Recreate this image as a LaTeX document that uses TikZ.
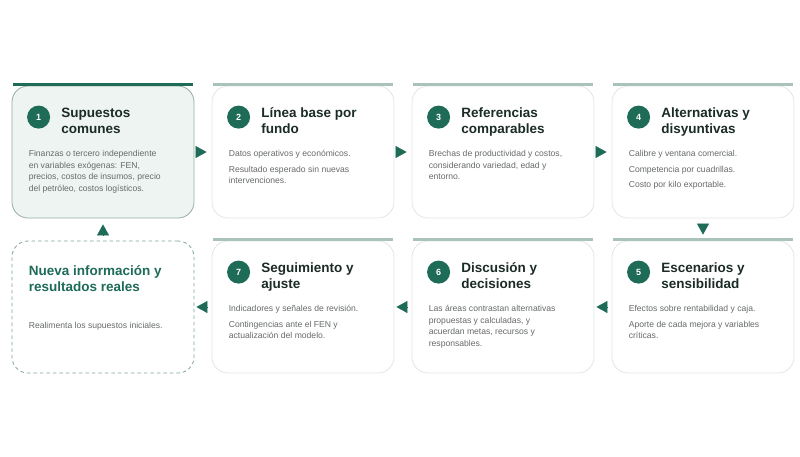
\documentclass[tikz,border=0pt]{standalone}
\usepackage{fontspec}
\setmainfont{Liberation Sans}
\usepackage{xcolor}
\usepackage{tikz}
\usetikzlibrary{arrows.meta}
\definecolor{fgreen}{HTML}{1E6B57}
\definecolor{barlight}{HTML}{A9C3B9}
\definecolor{firstfill}{HTML}{EEF4F1}
\definecolor{firstline}{HTML}{95AEA4}
\definecolor{cardline}{HTML}{E2E7E4}
\definecolor{loopline}{HTML}{7FA596}
\definecolor{titlecol}{HTML}{1B2B26}
\definecolor{bodycol}{HTML}{666B69}
\tikzstyle{card} = [rectangle, rounded corners = 16pt, draw = cardline, fill = white, line width = 0.8pt, minimum width = 182pt, minimum height = 132pt, inner sep = 0pt]
\tikzstyle{firstcard} = [card, draw = firstline, fill = firstfill]
\tikzstyle{loopcard} = [card, draw = loopline, dash pattern = on 3.5pt off 3pt]
\tikzstyle{bar} = [line width = 3pt, draw = barlight]
\tikzstyle{num} = [circle, fill = fgreen, text = white, minimum size = 23pt, inner sep = 0pt, font = \bfseries\fontsize{9}{9}\selectfont]
\tikzstyle{title} = [anchor = north west, align = left, inner sep = 0pt, text = titlecol, font = \bfseries\fontsize{13.5}{16}\selectfont, execute at begin node = \strut]
\tikzstyle{body} = [anchor = north west, align = left, inner sep = 0pt, text = bodycol, font = \fontsize{8.6}{11.5}\selectfont, execute at begin node = \strut]
\tikzstyle{line} = [-{Triangle[length = 11pt, width = 12pt]}, fgreen]

\begin{document}
\begin{tikzpicture}[x = 1pt, y = -1pt]
        \useasboundingbox (0,0) rectangle (800,456);
        % upper row
        \node (c1) [firstcard] at (103,152) {};
        \node (c2) [card] at (303,152) {};
        \node (c3) [card] at (503,152) {};
        \node (c4) [card] at (703,152) {};
        % lower row
        \node (c5) [card] at (703,307) {};
        \node (c6) [card] at (503,307) {};
        \node (c7) [card] at (303,307) {};
        \node (c8) [loopcard] at (103,307) {};
        % top bars
        \draw[bar, draw = fgreen] ([xshift = 1pt, yshift = 1pt]c1.north west) -- ([xshift = -1pt, yshift = 1pt]c1.north east);
        \draw[bar] ([xshift = 1pt, yshift = 1pt]c2.north west) -- ([xshift = -1pt, yshift = 1pt]c2.north east);
        \draw[bar] ([xshift = 1pt, yshift = 1pt]c3.north west) -- ([xshift = -1pt, yshift = 1pt]c3.north east);
        \draw[bar] ([xshift = 1pt, yshift = 1pt]c4.north west) -- ([xshift = -1pt, yshift = 1pt]c4.north east);
        \draw[bar] ([xshift = 1pt, yshift = 1pt]c5.north west) -- ([xshift = -1pt, yshift = 1pt]c5.north east);
        \draw[bar] ([xshift = 1pt, yshift = 1pt]c6.north west) -- ([xshift = -1pt, yshift = 1pt]c6.north east);
        \draw[bar] ([xshift = 1pt, yshift = 1pt]c7.north west) -- ([xshift = -1pt, yshift = 1pt]c7.north east);
        % numbers
        \node (n1) [num] at ([xshift = 27pt, yshift = -31.5pt]c1.north west) {1};
        \node (n2) [num] at ([xshift = 27pt, yshift = -31.5pt]c2.north west) {2};
        \node (n3) [num] at ([xshift = 27pt, yshift = -31.5pt]c3.north west) {3};
        \node (n4) [num] at ([xshift = 27pt, yshift = -31.5pt]c4.north west) {4};
        \node (n5) [num] at ([xshift = 27pt, yshift = -31.5pt]c5.north west) {5};
        \node (n6) [num] at ([xshift = 27pt, yshift = -31.5pt]c6.north west) {6};
        \node (n7) [num] at ([xshift = 27pt, yshift = -31.5pt]c7.north west) {7};
        % titles
        \node (t1) [title] at ([xshift = 49.5pt, yshift = -22pt]c1.north west) {Supuestos\\comunes};
        \node (t2) [title] at ([xshift = 49.5pt, yshift = -22pt]c2.north west) {Línea base por\\fundo};
        \node (t3) [title] at ([xshift = 49.5pt, yshift = -22pt]c3.north west) {Referencias\\comparables};
        \node (t4) [title] at ([xshift = 49.5pt, yshift = -22pt]c4.north west) {Alternativas y\\disyuntivas};
        \node (t5) [title] at ([xshift = 49.5pt, yshift = -22pt]c5.north west) {Escenarios y\\sensibilidad};
        \node (t6) [title] at ([xshift = 49.5pt, yshift = -22pt]c6.north west) {Discusión y\\decisiones};
        \node (t7) [title] at ([xshift = 49.5pt, yshift = -22pt]c7.north west) {Seguimiento y\\ajuste};
        \node (t8) [title, text = fgreen] at ([xshift = 17pt, yshift = -25pt]c8.north west) {Nueva información y\\resultados reales};
        % texts
        \node (b1) [body] at ([xshift = 17pt, yshift = -64.5pt]c1.north west) {Finanzas o tercero independiente\\en variables exógenas: FEN,\\precios, costos de insumos, precio\\del petróleo, costos logísticos.};
        \node (b2) [body] at ([xshift = 17pt, yshift = -64.5pt]c2.north west) {Datos operativos y económicos.\\[4pt]Resultado esperado sin nuevas\\intervenciones.};
        \node (b3) [body] at ([xshift = 17pt, yshift = -64.5pt]c3.north west) {Brechas de productividad y costos,\\considerando variedad, edad y\\entorno.};
        \node (b4) [body] at ([xshift = 17pt, yshift = -64.5pt]c4.north west) {Calibre y ventana comercial.\\[4pt]Competencia por cuadrillas.\\[4pt]Costo por kilo exportable.};
        \node (b5) [body] at ([xshift = 17pt, yshift = -64.5pt]c5.north west) {Efectos sobre rentabilidad y caja.\\[4pt]Aporte de cada mejora y variables\\críticas.};
        \node (b6) [body] at ([xshift = 17pt, yshift = -64.5pt]c6.north west) {Las áreas contrastan alternativas\\propuestas y calculadas, y\\acuerdan metas, recursos y\\responsables.};
        \node (b7) [body] at ([xshift = 17pt, yshift = -64.5pt]c7.north west) {Indicadores y señales de revisión.\\[4pt]Contingencias ante el FEN y\\actualización del modelo.};
        \node (b8) [body] at ([xshift = 17pt, yshift = -80pt]c8.north west) {Realimenta los supuestos iniciales.};
        % arrows
        \draw[line] ([xshift = 2pt]c1.east) -- ([xshift = -5pt]c2.west);
        \draw[line] ([xshift = 2pt]c2.east) -- ([xshift = -5pt]c3.west);
        \draw[line] ([xshift = 2pt]c3.east) -- ([xshift = -5pt]c4.west);
        \draw[line] ([yshift = -6pt]c4.south) -- ([yshift = 6pt]c5.north);
        \draw[line] ([xshift = -5pt]c5.west) -- ([xshift = 2pt]c6.east);
        \draw[line] ([xshift = -5pt]c6.west) -- ([xshift = 2pt]c7.east);
        \draw[line] ([xshift = -5pt]c7.west) -- ([xshift = 2pt]c8.east);
        \draw[line] ([yshift = 6pt]c8.north) -- ([yshift = -6pt]c1.south);
    \end{tikzpicture}
\end{document}
